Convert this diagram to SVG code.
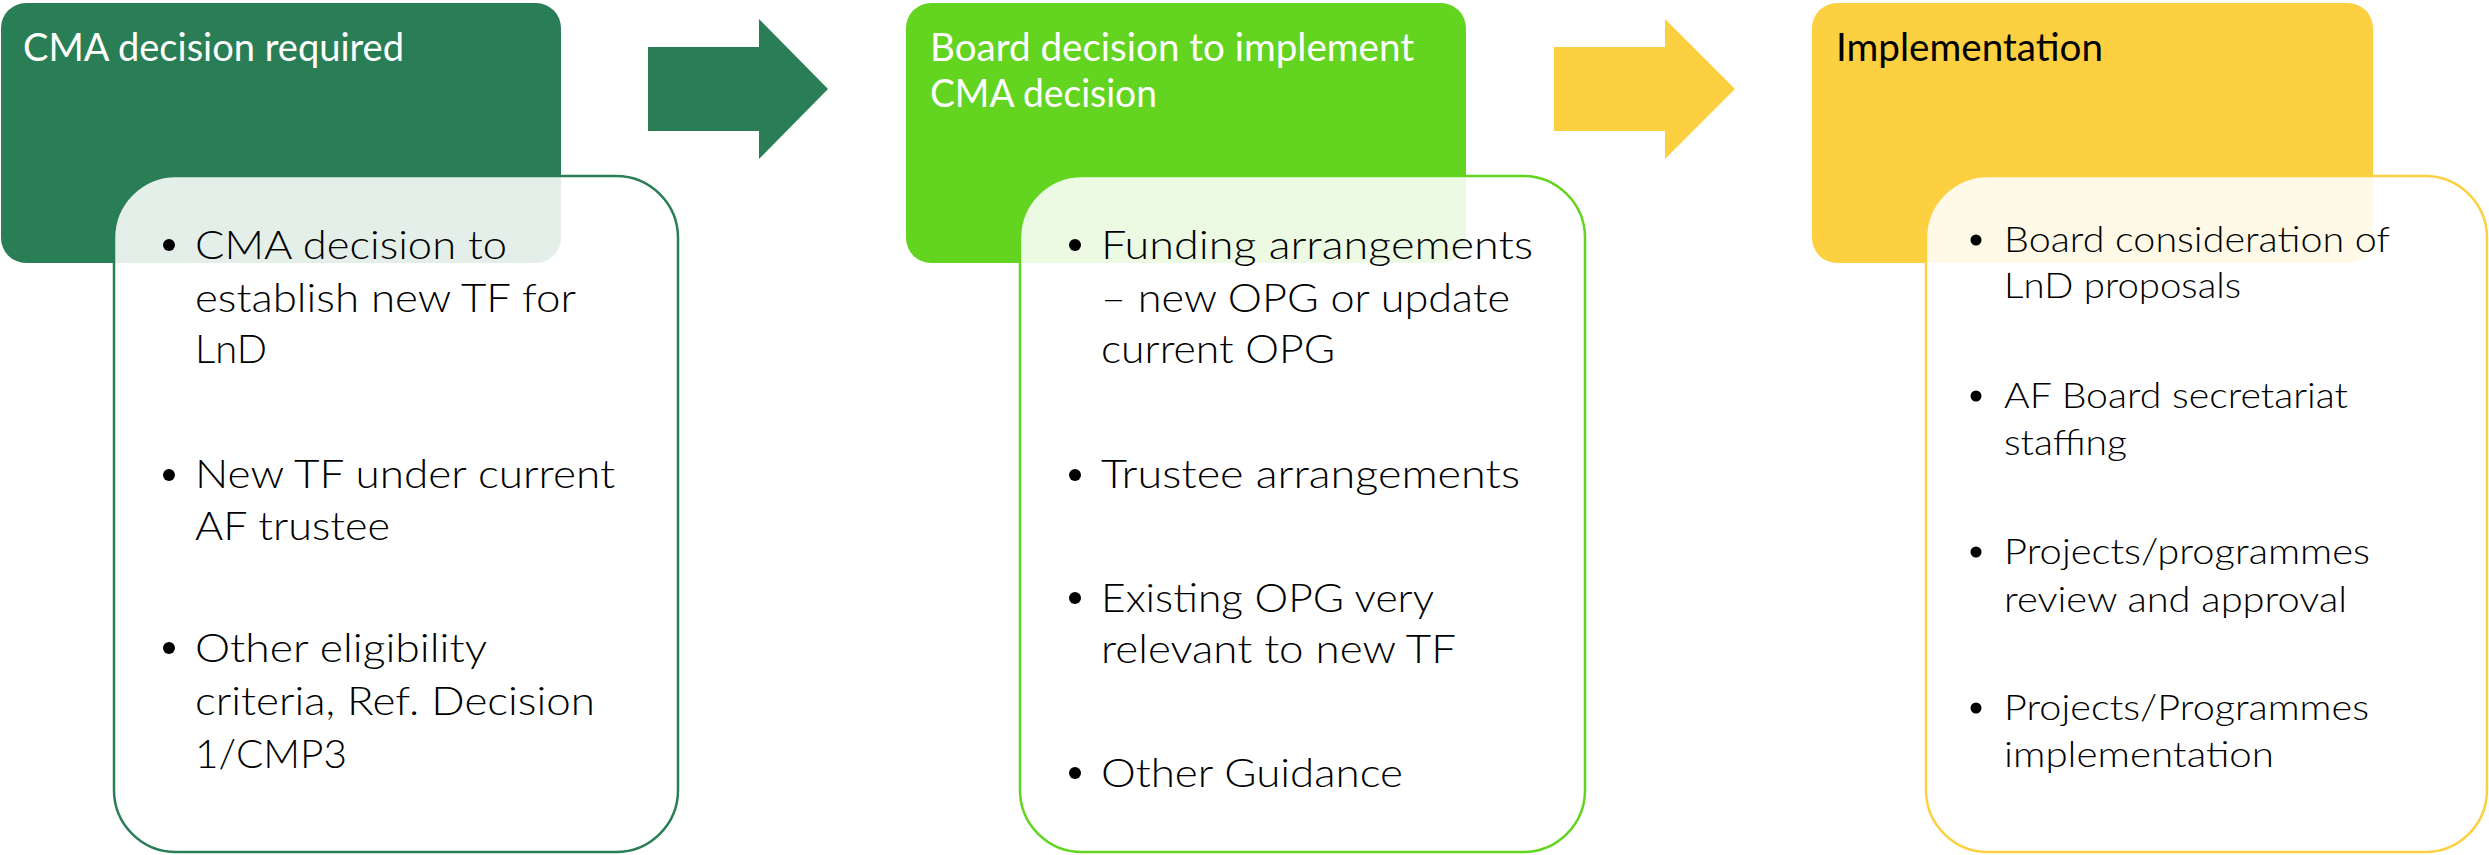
<svg xmlns="http://www.w3.org/2000/svg" width="2489" height="855" viewBox="0 0 2489 855">
<style>
.hd{font-family:Lato,"Open Sans","Liberation Sans",sans-serif;font-size:39px;}
.bt{font-family:Lato,"Open Sans","Liberation Sans",sans-serif;font-size:40px;font-weight:300;fill:#000;}
.bt3{font-family:Lato,"Open Sans","Liberation Sans",sans-serif;font-size:35px;font-weight:300;fill:#000;}
.body{fill:#fff;fill-opacity:0.88;stroke-width:2.5;}
.dot{fill:#000;}
</style>
<rect width="2489" height="855" fill="#fff"/>
<g id="connectors">
<polygon points="648,47 759,47 759,19 828,89 759,159 759,131 648,131" fill="#2A7E55"/>
<polygon points="1554,47 1665,47 1665,19 1735,89 1665,159 1665,131 1554,131" fill="#FDD041"/>
</g>
<g id="node1">
<rect x="1" y="3" width="560" height="260" rx="25" fill="#2A7E55"/>
<text class="hd" x="23" y="61" fill="#fff" textLength="381" lengthAdjust="spacingAndGlyphs">CMA decision required</text>
<rect class="body" x="114" y="176" width="564" height="676" rx="62" stroke="#2A7E55"/>
<circle class="dot" cx="169" cy="245" r="6"/>
<text class="bt" x="195" y="259" textLength="312" lengthAdjust="spacingAndGlyphs">CMA decision to</text>
<text class="bt" x="195" y="312" textLength="381" lengthAdjust="spacingAndGlyphs">establish new TF for</text>
<text class="bt" x="195" y="363" textLength="72" lengthAdjust="spacingAndGlyphs">LnD</text>
<circle class="dot" cx="169" cy="475" r="6"/>
<text class="bt" x="195" y="488" textLength="420" lengthAdjust="spacingAndGlyphs">New TF under current</text>
<text class="bt" x="195" y="540" textLength="195" lengthAdjust="spacingAndGlyphs">AF trustee</text>
<circle class="dot" cx="169" cy="648" r="6"/>
<text class="bt" x="195" y="662" textLength="292" lengthAdjust="spacingAndGlyphs">Other eligibility</text>
<text class="bt" x="195" y="715" textLength="400" lengthAdjust="spacingAndGlyphs">criteria, Ref. Decision</text>
<text class="bt" x="195" y="768" textLength="152" lengthAdjust="spacingAndGlyphs">1/CMP3</text>
</g>
<g id="node2">
<rect x="906" y="3" width="560" height="260" rx="25" fill="#63D420"/>
<text class="hd" x="930" y="61" fill="#fff" textLength="484" lengthAdjust="spacingAndGlyphs">Board decision to implement</text>
<text class="hd" x="930" y="107" fill="#fff" textLength="227" lengthAdjust="spacingAndGlyphs">CMA decision</text>
<rect class="body" x="1020" y="176" width="565" height="676" rx="62" stroke="#63D420"/>
<circle class="dot" cx="1075" cy="245" r="6"/>
<text class="bt" x="1101" y="259" textLength="432" lengthAdjust="spacingAndGlyphs">Funding arrangements</text>
<text class="bt" x="1101" y="312" textLength="409" lengthAdjust="spacingAndGlyphs">– new OPG or update</text>
<text class="bt" x="1101" y="363" textLength="234" lengthAdjust="spacingAndGlyphs">current OPG</text>
<circle class="dot" cx="1075" cy="475" r="6"/>
<text class="bt" x="1101" y="488" textLength="419" lengthAdjust="spacingAndGlyphs">Trustee arrangements</text>
<circle class="dot" cx="1075" cy="598" r="6"/>
<text class="bt" x="1101" y="612" textLength="333" lengthAdjust="spacingAndGlyphs">Existing OPG very</text>
<text class="bt" x="1101" y="663" textLength="355" lengthAdjust="spacingAndGlyphs">relevant to new TF</text>
<circle class="dot" cx="1075" cy="773" r="6"/>
<text class="bt" x="1101" y="787" textLength="302" lengthAdjust="spacingAndGlyphs">Other Guidance</text>
</g>
<g id="node3">
<rect x="1812" y="3" width="561" height="260" rx="25" fill="#FDD041"/>
<text class="hd" x="1836" y="61" fill="#000" textLength="267" lengthAdjust="spacingAndGlyphs">Implementation</text>
<rect class="body" x="1926" y="176" width="561" height="676" rx="62" stroke="#FDD041"/>
<circle class="dot" cx="1976" cy="240" r="5.5"/>
<text class="bt3" x="2004" y="252" textLength="386" lengthAdjust="spacingAndGlyphs">Board consideration of</text>
<text class="bt3" x="2004" y="298" textLength="237" lengthAdjust="spacingAndGlyphs">LnD proposals</text>
<circle class="dot" cx="1976" cy="396" r="5.5"/>
<text class="bt3" x="2004" y="408" textLength="344" lengthAdjust="spacingAndGlyphs">AF Board secretariat</text>
<text class="bt3" x="2004" y="455" textLength="123" lengthAdjust="spacingAndGlyphs">staffing</text>
<circle class="dot" cx="1976" cy="552" r="5.5"/>
<text class="bt3" x="2004" y="564" textLength="366" lengthAdjust="spacingAndGlyphs">Projects/programmes</text>
<text class="bt3" x="2004" y="612" textLength="343" lengthAdjust="spacingAndGlyphs">review and approval</text>
<circle class="dot" cx="1976" cy="708" r="5.5"/>
<text class="bt3" x="2004" y="720" textLength="365" lengthAdjust="spacingAndGlyphs">Projects/Programmes</text>
<text class="bt3" x="2004" y="767" textLength="270" lengthAdjust="spacingAndGlyphs">implementation</text>
</g>
</svg>
